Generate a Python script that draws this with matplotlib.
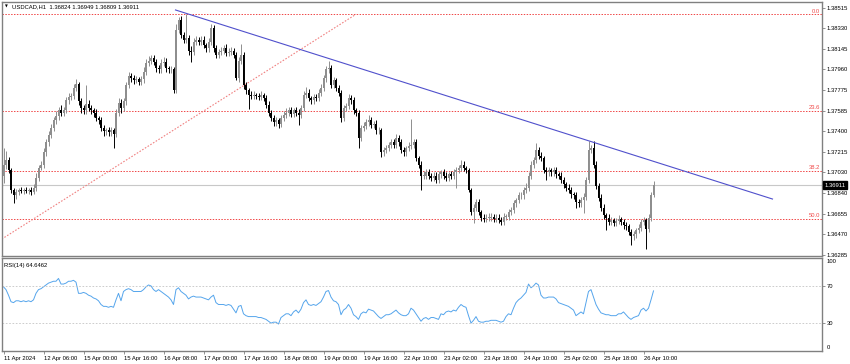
import matplotlib
matplotlib.use("Agg")
import matplotlib.pyplot as plt
import matplotlib.transforms as mtransforms
import numpy as np

plt.rcParams["font.family"] = ["Liberation Sans", "DejaVu Sans"]

# --- data (USDCAD H1) ---
header = "USDCAD,H1  1.36824 1.36949 1.36809 1.36911"
rsi_title = "RSI(14) 64.6462"
first_open = 1.3700
closes = [
    1.3710, 1.3714, 1.3705, 1.3687, 1.3682, 1.3685, 1.3687, 1.3686, 1.3687, 1.3686,
    1.3687, 1.3685, 1.3689, 1.3698, 1.3707, 1.3710, 1.3721, 1.3730, 1.3737, 1.3743,
    1.3750, 1.3754, 1.3759, 1.3757, 1.3759, 1.3768, 1.3771, 1.3772, 1.3779, 1.3783,
    1.3767, 1.3761, 1.3759, 1.3765, 1.3761, 1.3759, 1.3757, 1.3752, 1.3750, 1.3743,
    1.3740, 1.3741, 1.3739, 1.3741, 1.3738, 1.3757, 1.3766, 1.3761, 1.3767, 1.3782,
    1.3790, 1.3788, 1.3786, 1.3787, 1.3785, 1.3787, 1.3794, 1.3802, 1.3804, 1.3806,
    1.3803, 1.3797, 1.3796, 1.3802, 1.3803, 1.3797, 1.3796, 1.3796, 1.3777, 1.3832,
    1.3841, 1.3827, 1.3823, 1.3824, 1.3813, 1.3812, 1.3821, 1.3823, 1.3821, 1.3823,
    1.3818, 1.3815, 1.3821, 1.3833, 1.3815, 1.3809, 1.3812, 1.3813, 1.3815, 1.3811,
    1.3812, 1.3813, 1.3809, 1.3788, 1.3804, 1.3809, 1.3782, 1.3777, 1.3773, 1.3772,
    1.3773, 1.3772, 1.3771, 1.3773, 1.3770, 1.3764, 1.3757, 1.3752, 1.3748, 1.3750,
    1.3747, 1.3752, 1.3755, 1.3757, 1.3759, 1.3756, 1.3759, 1.3757, 1.3755, 1.3761,
    1.3773, 1.3775, 1.3770, 1.3768, 1.3771, 1.3770, 1.3775, 1.3779, 1.3788, 1.3796,
    1.3797, 1.3782, 1.3786, 1.3779, 1.3775, 1.3752, 1.3761, 1.3763, 1.3770, 1.3768,
    1.3759, 1.3757, 1.3734, 1.3743, 1.3745, 1.3748, 1.3750, 1.3746, 1.3747, 1.3741,
    1.3741, 1.3721, 1.3723, 1.3725, 1.3728, 1.3730, 1.3728, 1.3734, 1.3730, 1.3723,
    1.3721, 1.3725, 1.3727, 1.3728, 1.3730, 1.3716, 1.3710, 1.3700, 1.3700, 1.3703,
    1.3700, 1.3698, 1.3700, 1.3696, 1.3701, 1.3703, 1.3700, 1.3698, 1.3701, 1.3700,
    1.3703, 1.3705, 1.3707, 1.3710, 1.3707, 1.3705, 1.3687, 1.3667, 1.3671, 1.3676,
    1.3667, 1.3662, 1.3661, 1.3662, 1.3662, 1.3663, 1.3661, 1.3662, 1.3660, 1.3658,
    1.3663, 1.3663, 1.3667, 1.3669, 1.3675, 1.3678, 1.3682, 1.3682, 1.3687, 1.3689,
    1.3700, 1.3710, 1.3714, 1.3723, 1.3718, 1.3716, 1.3705, 1.3703, 1.3705, 1.3703,
    1.3705, 1.3701, 1.3700, 1.3696, 1.3692, 1.3689, 1.3687, 1.3683, 1.3682, 1.3676,
    1.3675, 1.3678, 1.3681, 1.3696, 1.3723, 1.3725, 1.3710, 1.3691, 1.3680, 1.3671,
    1.3664, 1.3662, 1.3658, 1.3660, 1.3657, 1.3659, 1.3661, 1.3658, 1.3655, 1.3654,
    1.3649, 1.3645, 1.3647, 1.3651, 1.3653, 1.3658, 1.3660, 1.3652, 1.3662, 1.36824,
    1.36911,
]
# wick lengths above / below the body, in pips
wick_up = [
    15, 8, 3, 2, 2, 3, 2, 3, 2, 3, 2, 3, 3, 4, 3, 3, 4, 3, 3, 4,
    3, 4, 3, 5, 3, 3, 4, 3, 4, 4, 2, 3, 3, 17, 3, 3, 2, 3, 2, 3,
    3, 2, 3, 3, 2, 3, 4, 3, 3, 3, 4, 3, 3, 3, 2, 3, 4, 3, 4, 3,
    3, 2, 3, 3, 4, 3, 2, 3, 2, 5, 2, 3, 3, 22, 3, 4, 3, 3, 2, 3,
    3, 2, 3, 4, 3, 3, 2, 3, 3, 4, 3, 3, 2, 3, 3, 10, 3, 3, 2, 3,
    3, 2, 3, 3, 2, 3, 3, 2, 3, 3, 2, 3, 3, 4, 3, 3, 2, 3, 3, 3,
    3, 5, 3, 2, 3, 3, 3, 4, 3, 3, 7, 3, 3, 2, 3, 2, 3, 3, 4, 3,
    3, 2, 2, 3, 3, 3, 5, 3, 2, 3, 3, 2, 3, 3, 2, 3, 3, 4, 3, 3,
    3, 2, 3, 23, 3, 3, 2, 3, 4, 3, 3, 2, 3, 3, 3, 2, 3, 3, 2, 3,
    3, 3, 3, 4, 3, 2, 2, 2, 3, 3, 3, 2, 3, 3, 4, 3, 2, 3, 3, 3,
    3, 2, 3, 3, 3, 2, 3, 3, 3, 4, 3, 3, 3, 6, 3, 3, 2, 3, 3, 2,
    3, 3, 2, 3, 3, 2, 3, 3, 2, 3, 3, 3, 3, 3, 8, 3, 6, 3, 2, 3,
    3, 2, 3, 3, 2, 3, 3, 2, 3, 3, 2, 3, 3, 2, 3, 3, 3, 2, 3, 3, 4,
]
wick_dn = [
    7, 4, 3, 3, 7, 3, 3, 2, 3, 2, 3, 3, 2, 3, 3, 2, 3, 3, 3, 3,
    3, 3, 4, 3, 3, 2, 3, 3, 3, 3, 3, 4, 3, 3, 3, 3, 4, 3, 3, 3,
    4, 3, 3, 3, 13, 3, 3, 4, 3, 3, 3, 3, 3, 2, 3, 3, 3, 3, 3, 3,
    3, 3, 3, 3, 3, 3, 3, 3, 2, 2, 3, 3, 3, 3, 4, 9, 3, 3, 3, 3,
    3, 3, 3, 3, 3, 3, 3, 3, 3, 3, 3, 3, 3, 2, 3, 3, 4, 3, 13, 3,
    3, 3, 3, 3, 3, 3, 3, 3, 3, 3, 4, 3, 3, 3, 3, 3, 3, 3, 9, 3,
    3, 3, 3, 3, 3, 3, 3, 3, 3, 3, 3, 3, 3, 3, 3, 4, 3, 3, 3, 3,
    3, 3, 9, 3, 3, 3, 3, 3, 3, 3, 3, 4, 3, 3, 3, 3, 3, 3, 3, 3,
    3, 3, 3, 3, 3, 3, 3, 13, 3, 3, 3, 3, 3, 3, 3, 3, 3, 3, 3, 3,
    3, 14, 3, 3, 3, 3, 2, 3, 10, 3, 3, 3, 3, 3, 3, 3, 3, 3, 3, 3,
    3, 3, 3, 3, 3, 3, 3, 3, 3, 3, 3, 3, 3, 3, 3, 3, 3, 7, 3, 3,
    3, 3, 3, 3, 3, 3, 3, 3, 3, 5, 3, 3, 12, 3, 3, 3, 3, 3, 3, 3,
    3, 11, 3, 3, 3, 3, 3, 3, 3, 3, 3, 8, 3, 3, 3, 3, 3, 18, 3, 3, 2,
]
rsi = [
    69, 66, 60, 53, 52, 54, 54, 53, 54, 53,
    54, 53, 55, 62, 66, 67, 69, 71, 73, 74,
    75, 75, 78, 72, 72, 73, 75, 75, 76, 74,
    62, 62, 63, 62, 60, 59, 57, 56, 54, 50,
    48, 48, 47, 48, 47, 55, 62, 54, 64, 66,
    67, 66, 64, 64, 64, 64, 66, 69, 71, 70,
    66, 64, 66, 64, 62, 60, 58, 55, 50, 66,
    68, 64, 62, 60, 56, 58, 59, 58, 58, 58,
    57, 56, 55, 58, 60, 52, 50, 50, 50, 49,
    50, 49, 45, 41, 48, 49, 40, 38, 37, 37,
    37, 37, 36, 36, 35, 34, 32, 30, 31, 31,
    29, 36, 38, 40, 40, 38, 42, 44, 41, 45,
    52, 55, 50, 49, 50, 49, 51, 53, 58, 64,
    65, 58, 54, 53, 50, 39, 44, 46, 50, 46,
    39, 37, 34, 40, 42, 41, 45, 44, 43, 40,
    37, 35, 37, 39, 39, 40, 42, 44, 41, 39,
    38, 38, 40, 46, 44, 40, 36, 32, 35, 36,
    34, 36, 36, 35, 34, 40, 39, 42, 43, 42,
    44, 43, 47, 50, 48, 47, 38, 30, 33, 37,
    32, 31, 31, 32, 32, 33, 33, 33, 32, 31,
    32, 37, 40, 39, 46, 52, 55, 57, 60, 63,
    72, 68, 70, 73, 71, 60, 57, 57, 58, 58,
    58, 56, 52, 51, 50, 49, 48, 46, 44, 38,
    40, 42, 40, 52, 64, 66, 58, 50, 45, 41,
    40, 39, 39, 38, 38, 38, 40, 40, 42, 39,
    36, 34, 36, 37, 38, 44, 46, 43, 46, 55,
    64.6462,
]
time_labels = [
    "11 Apr 2024", "12 Apr 06:00", "15 Apr 00:00", "15 Apr 16:00", "16 Apr 08:00",
    "17 Apr 00:00", "17 Apr 16:00", "18 Apr 08:00", "19 Apr 00:00", "19 Apr 16:00",
    "22 Apr 10:00", "23 Apr 02:00", "23 Apr 18:00", "24 Apr 10:00", "25 Apr 02:00",
    "25 Apr 18:00", "26 Apr 10:00",
]
bars_per_label = 16
price_ticks = [1.38515, 1.38330, 1.38145, 1.37960, 1.37775, 1.37585, 1.37400,
               1.37215, 1.37030, 1.36840, 1.36655, 1.36470, 1.36285]
price_range = (1.36273, 1.38569)
fib_ratios = [0.0, 0.236, 0.382, 0.5]
fib_names = ["0.0", "23.6", "38.2", "50.0"]
fib_bars = [-117, 141]
fib_prices = [1.34758, 1.38458]
trend_bars = [68.8, 307.6]
trend_prices = [1.38497, 1.36788]
rsi_levels = [70, 30]

# --- figure ---
W, H = 850, 364
FS = 4.2
fig = plt.figure(figsize=(W / 100, H / 100), dpi=100)


def box(x0, y0, x1, y1):
    return [x0 / W, 1 - y1 / H, (x1 - x0) / W, (y1 - y0) / H]


ax = fig.add_axes(box(2, 2, 822, 256))
ax_rsi = fig.add_axes(box(2, 258, 822, 351), sharex=ax)

closes = np.array(closes)
opens = np.concatenate([[first_open], closes[:-1]])
highs = np.maximum(opens, closes) + np.array(wick_up) * 1e-4
lows = np.minimum(opens, closes) - np.array(wick_dn) * 1e-4
idx = np.arange(len(closes))
colors = np.where(closes >= opens, "#8e8e8e", "#000000")

ax.axhline(closes[-1], color="#c8c8c8", lw=0.8, zorder=1)
ax.vlines(idx, lows, highs, colors=colors, lw=0.7, zorder=3)
body = np.maximum(np.abs(closes - opens), 0.00003)
ax.bar(idx, body, bottom=np.minimum(opens, closes), width=0.72,
       color=colors, linewidth=0, zorder=3)

# fibonacci retracement: levels measured down from the swing high
fib_hi, fib_lo = fib_prices[1], fib_prices[0]
red = "#f04a4a"
dots = (0, (1.44, 1.44))
for ratio, name in zip(fib_ratios, fib_names):
    level = fib_hi - ratio * (fib_hi - fib_lo)
    ax.axhline(level, color=red, lw=0.72, ls=dots, zorder=2)
    ax.text(0.9975, level + 0.00004, name, transform=ax.get_yaxis_transform(),
            ha="right", va="bottom", fontsize=FS, color=red)
ax.plot(fib_bars, fib_prices, color="#f08080", lw=0.8, ls=dots, zorder=2)
ax.plot(trend_bars, trend_prices, color="#5050cc", lw=0.8, zorder=4)

ax.set_xlim(-0.6, 327.4)
ax.set_ylim(*price_range)
ax.yaxis.tick_right()
ax.set_yticks(price_ticks)
ax.set_yticklabels([f"{p:.5f}" for p in price_ticks])
ax.tick_params(axis="y", length=2, width=0.6, pad=1.5, labelsize=FS, color="#808080")
ax.tick_params(axis="x", bottom=False, labelbottom=False)

trans = mtransforms.blended_transform_factory(ax.transAxes, ax.transData)
ax.text(1.003, closes[-1], f"{closes[-1]:.5f}", transform=trans, ha="left", va="center",
        fontsize=FS, color="white",
        bbox=dict(boxstyle="square,pad=0.25", fc="black", ec="black"))

fig.text(4.5 / W, 1 - 6.5 / H, "▼", fontsize=2.6, va="center", ha="left",
         family=["DejaVu Sans"])
fig.text(12 / W, 1 - 6.5 / H, header, fontsize=FS, va="center", ha="left")

# --- RSI ---
ax_rsi.plot(idx, rsi, color="#55a5ec", lw=0.7)
for lvl in rsi_levels:
    ax_rsi.axhline(lvl, color="#c4c4c4", lw=0.6, ls=(0, (2, 2)))
ax_rsi.set_ylim(0, 100)
ax_rsi.yaxis.tick_right()
ax_rsi.set_yticks(rsi_levels)
ax_rsi.tick_params(axis="y", length=2, width=0.6, pad=1.5, labelsize=FS, color="#808080")
ytr = ax_rsi.get_yaxis_transform()
ax_rsi.text(1.006, 99, "100", transform=ytr, ha="left", va="top", fontsize=FS)
ax_rsi.text(1.006, 1, "0", transform=ytr, ha="left", va="bottom", fontsize=FS)
ax_rsi.text(0.003, 95, rsi_title, transform=ytr, ha="left", va="top", fontsize=FS)

ax_rsi.set_xticks(np.arange(len(time_labels)) * bars_per_label)
ax_rsi.set_xticklabels(time_labels, ha="left")
ax_rsi.tick_params(axis="x", length=2, width=0.6, pad=1.5, labelsize=FS, color="#808080")

for a in (ax, ax_rsi):
    for sp in a.spines.values():
        sp.set_color("#808080")
        sp.set_linewidth(1.0)

fig.savefig("out.png", dpi=100, facecolor="white")
